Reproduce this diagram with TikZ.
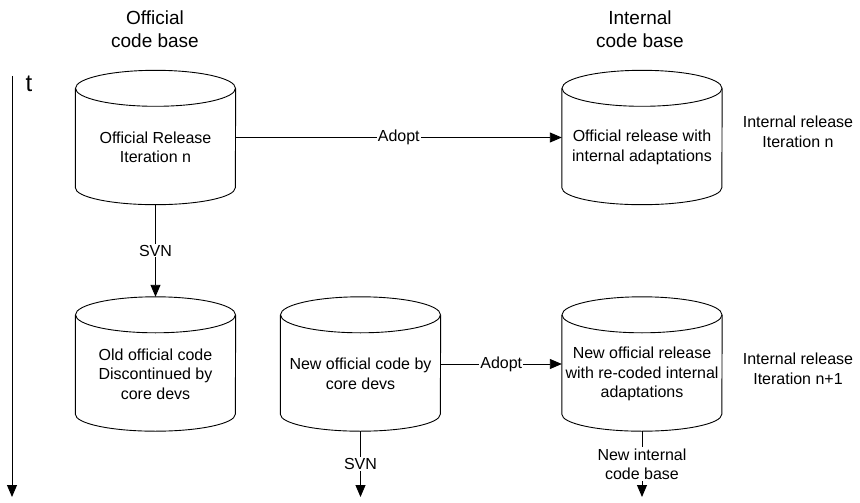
\documentclass[tikz,border=0pt]{standalone}
\usepackage{fontspec}
\setmainfont{Liberation Sans}
\usetikzlibrary{arrows.meta,positioning}

\begin{document}
\begin{tikzpicture}[x=1pt, y=-1pt,
  repo/.style={rectangle, minimum width=160pt, minimum height=134pt, inner sep=0pt},
  cylline/.style={line width=0.9pt},
  cyltext/.style={font=\fontsize{16}{19.5}\selectfont, align=center},
  flow/.style={-{Triangle[length=12pt, width=10pt]}, line width=0.9pt},
  lbl/.style={font=\fontsize{16}{19.5}\selectfont, align=center},
  hdr/.style={font=\fontsize{19}{23}\selectfont, align=center},
  onwire/.style={lbl, fill=white, inner sep=1pt},
]
\useasboundingbox (0,0) rectangle (860,503);

%% ---- column headers ----
\node[hdr] (hoff) at (155,29) {Official\\code base};
\node[hdr] (hint) at (640,29) {Internal\\code base};

%% ---- time axis ----
\coordinate (t0) at (12,76);
\coordinate (t1) at (12,497);
\draw[flow] (t0) -- (t1);
\node[font=\fontsize{24}{28}\selectfont] (tlbl) at (29,84) {t};

%% ---- repositories (cylinders) ----
\node[repo] (offrel)  at (155.5,137.5) {};
\node[repo] (intrel)  at (642,137.5) {};
\node[repo] (oldcode) at (155.5,364) {};
\node[repo] (newcode) at (360.5,364) {};
\node[repo] (newrel)  at (642,364) {};

\foreach \n in {offrel,intrel,oldcode,newcode,newrel} {
  \draw[cylline] ([yshift=-18pt]\n.north west) -- ([yshift=17pt]\n.south west)
    arc[start angle=180, end angle=360, x radius=80pt, y radius=17pt]
    -- ([yshift=-18pt]\n.north east);
  \draw[cylline] ([yshift=-18pt]\n.north) ellipse[x radius=80pt, y radius=18pt];
}

%% ---- texts in the cylinders ----
\node[cyltext] (offrel-t)  at ([yshift=-10pt]offrel.center)  {Official Release\\Iteration n};
\node[cyltext] (intrel-t)  at ([yshift=-10pt]intrel.center)  {Official release with\\internal adaptations};
\node[cyltext] (oldcode-t) at ([yshift=-10pt]oldcode.center) {Old official code\\Discontinued by\\core devs};
\node[cyltext] (newcode-t) at ([yshift=-10pt]newcode.center) {New official code by\\core devs};
\node[cyltext] (newrel-t)  at ([yshift=-10pt]newrel.center)  {New official release\\with re-coded internal\\adaptations};

%% ---- iteration labels ----
\node[lbl] (itn)  at (798,132) {Internal release\\Iteration n};
\node[lbl] (itn1) at (798,369) {Internal release\\Iteration n+1};

%% ---- connectors ----
\draw[flow] (offrel.east) -- node[onwire] {Adopt} (intrel.west);
\draw[flow] (offrel.south) -- node[onwire] {SVN} (oldcode.north);
\draw[flow] (newcode.east) -- node[onwire] {Adopt} (newrel.west);

%% ---- open ends ----
\coordinate (svnend) at (360.5,497);
\coordinate (intend) at (642,497);
\draw[flow] (newcode.south) -- node[onwire] {SVN} (svnend);
\draw[flow] (newrel.south) -- node[onwire] {New internal\\code base} (intend);

\end{tikzpicture}
\end{document}
